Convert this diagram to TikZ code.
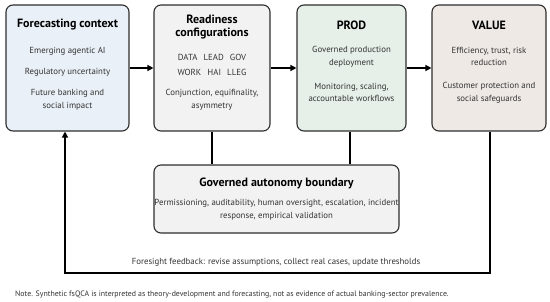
\documentclass[tikz,border=0pt]{standalone}
\usepackage{fontspec}
\setmainfont{PT Sans}
\usetikzlibrary{arrows.meta}
\definecolor{edge}{HTML}{2E2E2E}
\definecolor{fblue}{HTML}{E9F0F7}
\definecolor{fgray}{HTML}{F2F2F2}
\definecolor{fgreen}{HTML}{E6F0E8}
\definecolor{fbeige}{HTML}{EFE9E5}
\definecolor{txt}{HTML}{333333}
\tikzset{
  box/.style={draw=edge, line width=1.1pt, rounded corners=7pt, inner sep=0pt},
  ttl/.style={font=\bfseries\fontsize{12}{13}\selectfont, text=black, align=center, inner sep=0pt},
  bdy/.style={font=\fontsize{8.8}{12.8}\selectfont, text=txt, align=center, inner sep=0pt},
  conn/.style={draw=black, line width=1.3pt},
  arr/.style={conn, -{Triangle[length=6pt,width=6pt]}}
}
\begin{document}
\begin{tikzpicture}[x=1pt,y=-1pt]
\useasboundingbox (0,0) rectangle (550,302);
\fill[white] (0,0) rectangle (550,302);
% main boxes
\node[box, fill=fblue, minimum width=123pt, minimum height=126pt] (ctx) at (67.5,68) {};
\node[box, fill=fgray, minimum width=116pt, minimum height=126pt] (rdy) at (212,68) {};
\node[box, fill=fgreen, minimum width=109pt, minimum height=126pt] (prod) at (351.5,68) {};
\node[box, fill=fbeige, minimum width=114pt, minimum height=126pt] (val) at (489,68) {};
\node[box, fill=fgray, minimum width=245pt, minimum height=68pt] (gab) at (276.5,199) {};
% box 1 text
\node[ttl] (ctxT) at (67.5,25) {Forecasting context};
\node[bdy] (ctx1) at (67.5,51) {Emerging agentic AI};
\node[bdy] (ctx2) at (67.5,72) {Regulatory uncertainty};
\node[bdy] (ctx3) at (67.5,99.5) {Future banking and\\social impact};
% box 2 text
\node[ttl] (rdyT) at (212,27.5) {Readiness\\configurations};
\node[bdy] (rdy1) at (212,57) {DATA\hspace{0.7em}LEAD\hspace{0.7em}GOV};
\node[bdy] (rdy2) at (212,72) {WORK\hspace{0.7em}HAI\hspace{0.7em}LLEG};
\node[bdy] (rdy3) at (212,99.5) {Conjunction, equifinality,\\asymmetry};
% box 3 text
\node[ttl] (prodT) at (351.5,25) {PROD};
\node[bdy] (prod1) at (351.5,56.5) {Governed production\\deployment};
\node[bdy] (prod2) at (351.5,92.5) {Monitoring, scaling,\\accountable workflows};
% box 4 text
\node[ttl] (valT) at (489,25) {VALUE};
\node[bdy] (val1) at (489,56.5) {Efficiency, trust, risk\\reduction};
\node[bdy] (val2) at (489,92.5) {Customer protection and\\social safeguards};
% governed box text
\node[ttl] (gabT) at (276.5,183) {Governed autonomy boundary};
\node[bdy] (gab1) at (276.5,209.5) {Permissioning, auditability, human oversight, escalation, incident\\response, empirical validation};
% arrows
\draw[arr] (ctx.east) -- (rdy.west);
\draw[arr] (rdy.east) -- (prod.west);
\draw[arr] (prod.east) -- (val.west);
\draw[conn] (rdy.south) -- (rdy.south |- gab.north);
\draw[conn] (prod.south -| 350,0) -- (350,0 |- gab.north);
\coordinate (fbR) at (490,273);
\coordinate (fbL) at (65,273);
\draw[arr] (val.south -| fbR) -- (fbR) -- (fbL) -- (fbL |- ctx.south);
\node[bdy] (fbT) at (276,262) {Foresight feedback: revise assumptions, collect real cases, update thresholds};
\node[font=\fontsize{7.85}{9}\selectfont, text=txt, inner sep=0pt, anchor=west] (note) at (15,295) {Note. Synthetic fsQCA is interpreted as theory-development and forecasting, not as evidence of actual banking-sector prevalence.};
\end{tikzpicture}
\end{document}
